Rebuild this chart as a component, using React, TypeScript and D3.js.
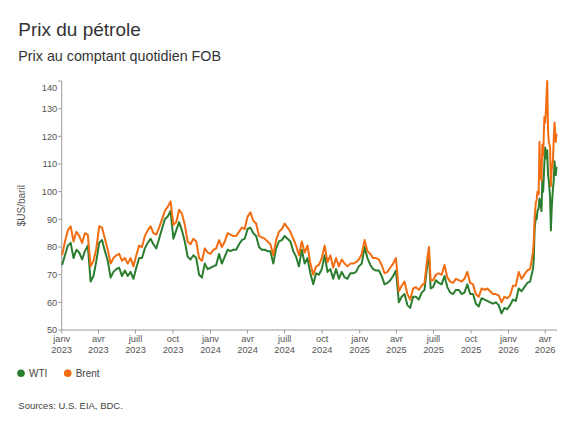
import React from "react";
import * as d3 from "d3";

const dates: string[] = [
  "2023-01-02","2023-01-09","2023-01-16","2023-01-23","2023-01-30","2023-02-06","2023-02-13","2023-02-20","2023-02-27",
  "2023-03-06","2023-03-13","2023-03-20","2023-03-27","2023-04-03","2023-04-10","2023-04-17","2023-04-24",
  "2023-05-01","2023-05-08","2023-05-15","2023-05-22","2023-05-29","2023-06-05","2023-06-12","2023-06-19","2023-06-26",
  "2023-07-03","2023-07-10","2023-07-17","2023-07-24","2023-07-31","2023-08-07","2023-08-14","2023-08-21","2023-08-28",
  "2023-09-04","2023-09-11","2023-09-18","2023-09-25","2023-10-02","2023-10-09","2023-10-16","2023-10-23","2023-10-30",
  "2023-11-06","2023-11-13","2023-11-20","2023-11-27","2023-12-04","2023-12-11","2023-12-18","2023-12-25",
  "2024-01-01","2024-01-08","2024-01-15","2024-01-22","2024-01-29","2024-02-05","2024-02-12","2024-02-19","2024-02-26",
  "2024-03-04","2024-03-11","2024-03-18","2024-03-25","2024-04-01","2024-04-08","2024-04-15","2024-04-22","2024-04-29",
  "2024-05-06","2024-05-13","2024-05-20","2024-05-27","2024-06-03","2024-06-10","2024-06-17","2024-06-24",
  "2024-07-01","2024-07-08","2024-07-15","2024-07-22","2024-07-29","2024-08-05","2024-08-12","2024-08-19","2024-08-26",
  "2024-09-02","2024-09-09","2024-09-16","2024-09-23","2024-09-30","2024-10-07","2024-10-14","2024-10-21","2024-10-28",
  "2024-11-04","2024-11-11","2024-11-18","2024-11-25","2024-12-02","2024-12-09","2024-12-16","2024-12-23","2024-12-30",
  "2025-01-06","2025-01-13","2025-01-20","2025-01-27","2025-02-03","2025-02-10","2025-02-17","2025-02-24",
  "2025-03-03","2025-03-10","2025-03-17","2025-03-24","2025-03-31","2025-04-07","2025-04-14","2025-04-21","2025-04-28",
  "2025-05-05","2025-05-12","2025-05-19","2025-05-26","2025-06-02","2025-06-09","2025-06-16","2025-06-20","2025-06-24","2025-06-30",
  "2025-07-07","2025-07-14","2025-07-21","2025-07-28","2025-08-04","2025-08-11","2025-08-18","2025-08-25",
  "2025-09-01","2025-09-08","2025-09-15","2025-09-22","2025-09-29","2025-10-06","2025-10-13","2025-10-20","2025-10-27",
  "2025-11-03","2025-11-10","2025-11-17","2025-11-24","2025-12-01","2025-12-08","2025-12-15","2025-12-22","2025-12-29",
  "2026-01-05","2026-01-12","2026-01-19","2026-01-26","2026-02-02","2026-02-09","2026-02-16","2026-02-23","2026-03-02",
  "2026-03-04","2026-03-06","2026-03-09","2026-03-11","2026-03-13","2026-03-16","2026-03-18","2026-03-20","2026-03-23",
  "2026-03-25","2026-03-27","2026-03-30","2026-04-01","2026-04-03","2026-04-06","2026-04-08","2026-04-10","2026-04-13",
  "2026-04-15","2026-04-17","2026-04-20","2026-04-22","2026-04-24","2026-04-27","2026-04-29"
];

const brent: number[] = [
  77, 82, 86, 87.5, 82, 85.5, 84, 81.5, 85,
  84.5, 73, 75, 79.5, 87.5, 87, 83, 79,
  74, 76, 77, 77.5, 75, 76, 74, 76, 73,
  77, 80.5, 80, 84, 86, 87.5, 85, 84.5, 87,
  90, 93, 94.5, 96.5, 88, 89, 93.5, 92, 88,
  82, 81, 83, 82, 76, 75, 79.5, 78,
  77.5, 79, 79.5, 82.5, 80, 82, 85, 84.5, 84,
  84, 85.5, 87, 86.5, 91, 92.5, 89.5, 88.5, 84,
  83.5, 83, 82, 81, 77, 82.5, 85.5, 86.5,
  88.5, 87, 85.5, 83, 80.5, 77, 82, 78, 80.5,
  74, 70, 73, 73.5, 76, 80.5, 74.5, 77, 72.5,
  76, 73, 75.5, 74, 73, 74, 74, 74.5, 75.5,
  77.5, 82.5, 78.5, 77.5, 76, 76, 75.5, 73.5,
  70.5, 71, 72.5, 74, 76, 64, 66, 67.5, 63,
  61, 65, 65.5, 64.5, 66, 67, 76, 80, 68, 68,
  70, 70.5, 70, 73.5, 69, 67.5, 67, 68.5,
  68, 67.5, 68.5, 71, 67, 66.5, 63, 62, 65,
  64.5, 65, 64, 63, 63, 62.5, 60, 62, 61.5,
  62.5, 66, 66, 71, 68.5, 70, 71.5, 72, 78,
  82, 90, 96, 97, 100, 99, 118, 106, 104,
  117, 113, 127, 125, 130, 140, 122, 118, 116,
  102, 108, 111, 119, 125, 118, 121
];

const wti: number[] = [
  73.5, 77, 80.5, 81.5, 76, 79, 78, 75.5, 78.5,
  80.5, 67.5, 69.5, 75, 81.5, 82.5, 78.5, 75,
  69, 71, 72, 72.5, 69.5, 71.5, 69.5, 71, 68.5,
  72.5, 76, 76, 79.5, 81.5, 83, 81, 79.5, 83,
  86.5, 90, 91, 93, 83, 86, 89, 86, 82,
  76.5, 75.5, 77, 76, 70, 69, 74, 72,
  72.5, 73, 73.5, 77.5, 74, 76.5, 79, 78.5, 79,
  79, 81, 82.5, 83, 86.5, 87, 85, 84, 80,
  79, 79, 78.5, 78.5, 74, 79.5, 82, 82.5,
  84, 83, 82, 78.5, 76.5, 73, 79, 74, 76,
  70.5, 66.5, 70.5, 70, 72, 77, 71, 72, 68.5,
  72, 68.5, 71, 69, 68.5, 70.5, 70.5, 71, 73,
  74, 80, 76, 73.5, 72, 71.5, 71.5, 69.5,
  66.5, 67, 68, 69.5, 71.5, 60, 62, 63, 59,
  58, 62, 62, 61, 63.5, 64.5, 74, 76, 65, 65.5,
  68, 67, 66.5, 69.5, 65.5, 63.5, 63, 64.5,
  64.5, 63, 63.5, 66.5, 63, 63, 59.5, 58.5, 61.5,
  61, 60.5, 60, 59.5, 60, 59, 56, 58, 57.5,
  59, 61, 60.5, 65, 64, 65.5, 67, 67.5, 72,
  75.5, 86, 91, 90, 93, 94, 97.5, 96, 93,
  104, 100, 110, 116, 112, 115, 106, 104, 98,
  86, 94, 101, 104, 111, 106, 109
];

const yTicks: number[] = [50, 60, 70, 80, 90, 100, 110, 120, 130, 140];
const xTickDates: string[] = [
  "2023-01-01","2023-04-01","2023-07-01","2023-10-01","2024-01-01","2024-04-01","2024-07-01",
  "2024-10-01","2025-01-01","2025-04-01","2025-07-01","2025-10-01","2026-01-01","2026-04-01"
];
const monthLabels: Record<number, string> = { 0: "janv", 3: "avr", 6: "juill", 9: "oct" };

const seriesNames = ["WTI", "Brent"];
const colors = ["#2b7d2f", "#f26d12"];

const W = 575;
const H = 431;
const M = { left: 61.7, right: 557, top: 81, bottom: 330 };
const FONT = "'Liberation Sans', Arial, sans-serif";

export default function App() {
  const parse = d3.utcParse("%Y-%m-%d");
  const pts = dates.map((d) => parse(d) as Date);
  const x = d3
    .scaleUtc()
    .domain([parse("2023-01-01") as Date, parse("2026-04-30") as Date])
    .range([M.left, M.right]);
  const y = d3.scaleLinear().domain([50, 140]).range([M.bottom, M.top]);

  const line = d3
    .line<number>()
    .x((_, i) => x(pts[i]))
    .y((v) => y(v));

  const series = [wti, brent];
  const axisColor = "#9a9a9a";
  const textColor = "#555";

  return (
    <svg
      width={W}
      height={H}
      style={{ position: "absolute", left: 0, top: 0, background: "#fff" }}
      fontFamily={FONT}
    >
      <rect x={0} y={0} width={W} height={H} fill="#fff" />
      <text x={18.3} y={36} fontSize={19} fill="#333">
        Prix du pétrole
      </text>
      <text x={18.3} y={61} fontSize={14.3} fill="#333">
        Prix au comptant quotidien FOB
      </text>

      {/* y axis */}
      <line x1={M.left} x2={M.left} y1={M.top} y2={M.bottom} stroke={axisColor} strokeWidth={1} />
      {yTicks.map((t, i) => {
        const yy = y(t);
        const labelY = i === yTicks.length - 1 ? yy + 7 : yy;
        return (
          <g key={t}>
            <line x1={M.left - 3.5} x2={M.left} y1={yy} y2={yy} stroke={axisColor} />
            <text
              x={57.3}
              y={labelY}
              dy="0.35em"
              textAnchor="end"
              fontSize={9.3}
              fill={textColor}
            >
              {t}
            </text>
          </g>
        );
      })}
      <text
        transform={`translate(21.7,205.7) rotate(-90)`}
        textAnchor="middle"
        dy="0.35em"
        fontSize={10}
        fill={textColor}
      >
        $US/baril
      </text>

      {/* x axis */}
      <line x1={M.left} x2={M.right} y1={M.bottom} y2={M.bottom} stroke={axisColor} strokeWidth={1} />
      {xTickDates.map((s) => {
        const d = parse(s) as Date;
        const xx = x(d);
        return (
          <g key={s}>
            <line x1={xx} x2={xx} y1={M.bottom} y2={M.bottom + 3.5} stroke={axisColor} />
            <text x={xx} y={341.5} textAnchor="middle" fontSize={9.3} fill={textColor}>
              {monthLabels[d.getUTCMonth()]}
            </text>
            <text x={xx} y={352.7} textAnchor="middle" fontSize={9.3} fill={textColor}>
              {d.getUTCFullYear()}
            </text>
          </g>
        );
      })}

      {/* series */}
      {series.map((vals, i) => (
        <path
          key={seriesNames[i]}
          d={line(vals) || ""}
          fill="none"
          stroke={colors[i]}
          strokeWidth={2}
          strokeLinejoin="round"
        />
      ))}

      {/* legend */}
      {seriesNames.map((n, i) => {
        const lx = i === 0 ? 21 : 67.7;
        return (
          <g key={n}>
            <circle cx={lx} cy={373.3} r={3.8} fill={colors[i]} />
            <text x={lx + 8} y={377.3} fontSize={10} fill="#444">
              {n}
            </text>
          </g>
        );
      })}

      <text x={18.3} y={408.5} fontSize={9.5} fill="#444">
        Sources: U.S. EIA, BDC.
      </text>
    </svg>
  );
}
